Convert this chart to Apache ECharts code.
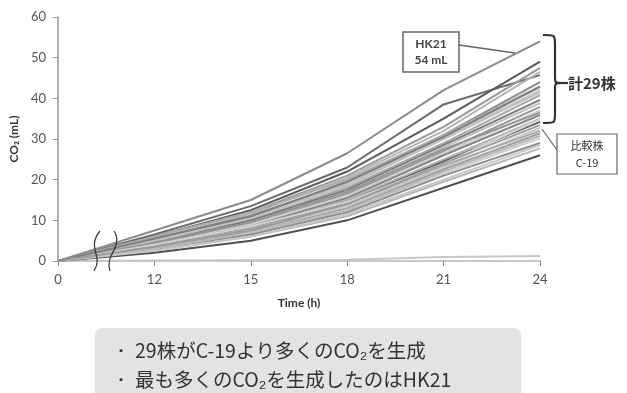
<!DOCTYPE html>
<html>
<head>
<meta charset="utf-8">
<script src="https://cdn.jsdelivr.net/npm/echarts@6/dist/echarts.min.js"></script>
<style>
  html, body { margin: 0; padding: 0; background: #fff; }
  #chart { width: 627px; height: 393px; }
</style>
</head>
<body>
<div id="chart"></div>
<script>
const times = ['0', '12', '15', '18', '21', '24'];
const yTicks = [0, 10, 20, 30, 40, 50, 60];

// CO2 (mL) per strain at each time point
const hk21 = [0, 7.5, 15, 26.5, 42, 54];
const c19 = [0, 3.5, 7.5, 14, 24, 33.4];
const blank = [0, 0.1, 0.2, 0.3, 1.0, 1.2];
const strains = [
  [0, 6.5, 13.5, 23, 38.5, 45.7],
  [0, 6, 12.5, 22, 35, 49],
  [0, 6, 12, 21, 33, 47.5],
  [0, 5.5, 11.5, 20.5, 32, 46.5],
  [0, 5.5, 11, 19, 31, 44],
  [0, 5, 10.5, 18.5, 30, 42],
  [0, 5, 10, 18, 29, 40.8],
  [0, 4.5, 10, 17.5, 28.5, 39.6],
  [0, 4.5, 9.5, 17, 28, 38.8],
  [0, 4.5, 9, 16.5, 27, 37.9],
  [0, 4, 9, 16, 26.5, 37],
  [0, 4, 8.5, 15.5, 26, 35.9],
  [0, 4, 8, 15, 25, 35],
  [0, 3.5, 8, 14.5, 24.5, 34.2],
  [0, 3.5, 7.5, 13.5, 23, 32.7],
  [0, 3, 7, 13, 22.5, 31.4],
  [0, 3, 6.5, 12.5, 21.5, 30.2],
  [0, 3, 6.5, 12, 21, 29],
  [0, 2.5, 6, 11, 19.5, 27.7],
  [0, 2, 5, 10, 18, 26],
  [0, 6, 12, 20, 31, 43],
  [0, 5, 10.5, 19, 30, 41.5],
  [0, 4.5, 9.5, 17, 27.5, 36.5],
  [0, 4, 8.5, 14.5, 24, 34.8],
  [0, 3.5, 8, 14, 23.5, 32],
  [0, 3, 7, 12.5, 22, 30.8],
  [0, 5.5, 11, 19.5, 30.5, 42.8],
  [0, 2.5, 6, 11.5, 20, 28.5]
];
const strainColors = ['#6a6a6a', '#5a5a5a', '#9a9a9a', '#b5b5b5', '#8a8a8a', '#c4c4c4',
  '#a5a5a5', '#7a7a7a', '#bdbdbd', '#989898', '#cfcfcf', '#868686', '#b0b0b0', '#5e5e5e',
  '#c8c8c8', '#a0a0a0', '#d0d0d0', '#8e8e8e', '#b8b8b8', '#505050', '#acacac', '#c0c0c0',
  '#929292', '#d4d4d4', '#a8a8a8', '#bababa', '#7e7e7e', '#c6c6c6'];

const chart = echarts.init(document.getElementById('chart'));

const lineSeries = (name, data, color, width) => ({
  name, type: 'line', data, symbol: 'none', silent: true,
  lineStyle: { color, width }
});

const series = [lineSeries('blank', blank, '#c8c8c8', 2)];
strains.forEach((d, i) => series.push(lineSeries('s' + i, d, strainColors[i], 2)));
series.push(lineSeries('C-19', c19, '#9c9c9c', 2));
series.push(lineSeries('HK21', hk21, '#8c8c8c', 2));

const font = 'Lato, "Open Sans", sans-serif';
const jp = '"Noto Sans CJK JP", sans-serif';

const curve = (x1, y1, cx, cy, x2, y2) => ({
  type: 'bezierCurve', z: 100,
  shape: { x1, y1, cpx1: cx, cpy1: cy, cpx2: cx, cpy2: cy, x2, y2 },
  style: { stroke: '#333', lineWidth: 2.2, fill: null }
});
const seg = (x1, y1, x2, y2, color, w) => ({
  type: 'line', z: 100, shape: { x1, y1, x2, y2 }, style: { stroke: color, lineWidth: w }
});

const option = {
  animation: false,
  grid: { left: 58, right: 87, top: 17, bottom: 132 },
  xAxis: {
    type: 'category',
    data: times,
    boundaryGap: false,
    name: 'Time (h)',
    nameLocation: 'middle',
    nameGap: 36,
    nameTextStyle: { fontFamily: font, fontWeight: 'bold', fontSize: 12, color: '#333' },
    axisLine: { lineStyle: { color: '#c8c8c8', width: 2 } },
    axisTick: { show: true, alignWithLabel: true, length: 5, lineStyle: { color: '#888' } },
    axisLabel: { fontFamily: font, fontSize: 13, color: '#555', margin: 12 },
    splitLine: { show: false }
  },
  yAxis: {
    type: 'value',
    min: 0, max: 60, interval: 10,
    name: 'CO₂ (mL)',
    nameLocation: 'middle',
    nameGap: 35,
    nameRotate: 90,
    nameTextStyle: { fontFamily: font, fontWeight: 'bold', fontSize: 12, color: '#333' },
    axisLine: { show: true, lineStyle: { color: '#999', width: 1.5 } },
    axisTick: { show: true, length: 5, lineStyle: { color: '#999' } },
    axisLabel: { fontFamily: font, fontSize: 13, color: '#555', margin: 12,
      formatter: v => yTicks.includes(v) ? String(v) : '' },
    splitLine: { show: false }
  },
  series,
  graphic: [
    // axis break marks
    { type: 'bezierCurve', shape: { x1: 100, y1: 231, cpx1: 86, cpy1: 248, cpx2: 104, cpy2: 256, x2: 94, y2: 271 },
      style: { stroke: '#333', lineWidth: 1.2, fill: null }, z: 100 },
    { type: 'bezierCurve', shape: { x1: 114, y1: 231, cpx1: 124, cpy1: 246, cpx2: 104, cpy2: 256, x2: 110, y2: 271 },
      style: { stroke: '#333', lineWidth: 1.2, fill: null }, z: 100 },
    // HK21 callout
    seg(459, 45, 515, 53, '#666', 1.5),
    { type: 'rect', shape: { x: 403, y: 32, width: 56, height: 40 },
      style: { fill: '#fff', stroke: '#666', lineWidth: 1.5 }, z: 100 },
    { type: 'text', x: 431, y: 52, z: 101,
      style: { text: 'HK21\n54 mL', fontFamily: font, fontWeight: 'bold', fontSize: 12, lineHeight: 16,
        fill: '#444', align: 'center', verticalAlign: 'middle' } },
    // bracket for 29 strains
    curve(543, 35, 555, 35, 555, 44),
    seg(555, 44, 555, 76, '#333', 2.2),
    curve(555, 76, 555, 83, 562, 83),
    curve(562, 83, 555, 83, 555, 90),
    seg(555, 90, 555, 114, '#333', 2.2),
    curve(555, 114, 555, 123, 543, 123),
    seg(561, 83, 568, 83, '#333', 2.2),
    { type: 'text', x: 568, y: 83, z: 101,
      style: { text: '計29株', fontFamily: jp, fontWeight: 'bold', fontSize: 15, fill: '#333', verticalAlign: 'middle' } },
    // C-19 callout
    seg(557, 150, 542, 129, '#666', 1.2),
    { type: 'rect', shape: { x: 557, y: 134, width: 60, height: 40 },
      style: { fill: '#fff', stroke: '#666', lineWidth: 1.2 }, z: 100 },
    { type: 'text', x: 587, y: 154, z: 101,
      style: { text: '比較株\nC-19', fontFamily: jp, fontSize: 11, lineHeight: 17,
        fill: '#333', align: 'center', verticalAlign: 'middle' } },
    // summary box
    { type: 'rect', shape: { x: 95, y: 328, width: 426, height: 80, r: 8 },
      style: { fill: '#e3e3e3' }, z: 90 },
    { type: 'text', x: 116, y: 351, z: 91,
      style: { text: '▪', fontFamily: jp, fontSize: 10, fill: '#333', verticalAlign: 'middle' } },
    { type: 'text', x: 135, y: 351, z: 91,
      style: { text: '29株がC-19より多くのCO₂を生成', fontFamily: jp, fontSize: 19.5, fill: '#333', verticalAlign: 'middle' } },
    { type: 'text', x: 116, y: 380, z: 91,
      style: { text: '▪', fontFamily: jp, fontSize: 10, fill: '#333', verticalAlign: 'middle' } },
    { type: 'text', x: 135, y: 380, z: 91,
      style: { text: '最も多くのCO₂を生成したのはHK21', fontFamily: jp, fontSize: 19.5, fill: '#333', verticalAlign: 'middle' } }
  ]
};

chart.setOption(option);
window.addEventListener('resize', () => chart.resize());
</script>
</body>
</html>
